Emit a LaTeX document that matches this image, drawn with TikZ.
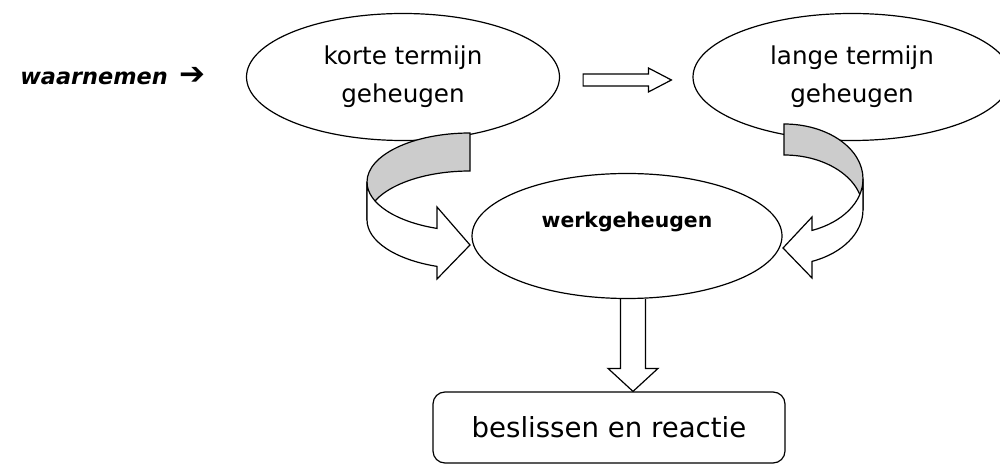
\documentclass[tikz,border=0pt]{standalone}
\usepackage{fontspec}
\setmainfont{DejaVu Sans}
\newfontfamily\symbfont{DejaVu Sans}
\usetikzlibrary{shapes.geometric,calc,positioning}

\begin{document}
\begin{tikzpicture}[
  x=0.5pt, y=-0.5pt, line width=0.6pt,
  memory/.style={draw, ellipse, inner sep=0pt, align=center,
    font=\fontsize{12.3}{19}\selectfont},
  hollow/.style={draw, fill=white, line join=miter},
  ribbonback/.style={draw, fill=gray!40, line join=miter},
]
\fill[white] (0,0) rectangle (1000,464);
\useasboundingbox (0,0) rectangle (1000,464);
\node[anchor=base west, font=\bfseries\itshape\fontsize{11.2}{13}\selectfont] (waar) at (13,85)
  {waarnemen\hspace{6pt}{\symbfont\bfseries\upshape\fontsize{15.5}{15}\selectfont ➔}};
\node[memory, minimum width=156.5pt, minimum height=63.5pt] (kort) at (403,77) {korte termijn\\geheugen};
\node[memory, minimum width=159pt, minimum height=63.5pt] (lang) at (852,77) {lange termijn\\geheugen};
\node[memory, minimum width=155pt, minimum height=62.5pt] (werk) at (627,236) {};
\node[font=\bfseries\fontsize{10.2}{12}\selectfont] (werktekst) at ($(werk.center)+(0,-14)$) {werkgeheugen};
\node[draw, rounded corners=6pt, minimum width=176pt, minimum height=35.5pt,
  font=\fontsize{13.8}{16}\selectfont] (besl) at (609,427.5) {beslissen en reactie};
% kort -> lang
\coordinate (hs) at ($(kort.east)+(23,3)$);
\coordinate (ht) at ($(lang.west)+(-21,3)$);
\draw[hollow] ($(hs)+(0,-6)$) -- ($(ht)+(-23,-6)$) -- ($(ht)+(-23,-12)$) -- (ht)
  -- ($(ht)+(-23,12)$) -- ($(ht)+(-23,6)$) -- ($(hs)+(0,6)$) -- cycle;
% werk -> besl
\coordinate (dtop) at ($(werk.south)+(6,0)$);
\coordinate (dtip) at (dtop |- besl.north);
\draw[line join=miter] ($(dtop)+(-12.5,0)$) -- ($(dtip)+(-12.5,-23)$) -- ($(dtip)+(-25,-23)$) -- (dtip)
  -- ($(dtip)+(25,-23)$) -- ($(dtip)+(12.5,-23)$) -- ($(dtop)+(12.5,0)$);
% kort -> werk
\draw[ribbonback] (470,133) arc[start angle=-90, end angle=-180, x radius=103, y radius=49]
  -- ++(0,38) arc[start angle=-180, end angle=-90, x radius=103, y radius=49] -- cycle;
\draw[hollow] (367,182) arc[start angle=180, end angle=108.7, x radius=103, y radius=49]
  -- (437,207) -- (470,245) -- (437,279) -- (437,266.4)
  arc[start angle=108.7, end angle=180, x radius=103, y radius=49] -- cycle;
% lang -> werk
\draw[ribbonback] (784,124) arc[start angle=-90, end angle=0, x radius=79, y radius=55]
  -- ++(0,31) arc[start angle=0, end angle=-90, x radius=79, y radius=55] -- cycle;
\draw[hollow] (863,179) arc[start angle=0, end angle=69.2, x radius=79, y radius=55]
  -- (812,217) -- (783,248) -- (812,278) -- (812,261.4)
  arc[start angle=69.2, end angle=0, x radius=79, y radius=55] -- cycle;
\end{tikzpicture}
\end{document}
